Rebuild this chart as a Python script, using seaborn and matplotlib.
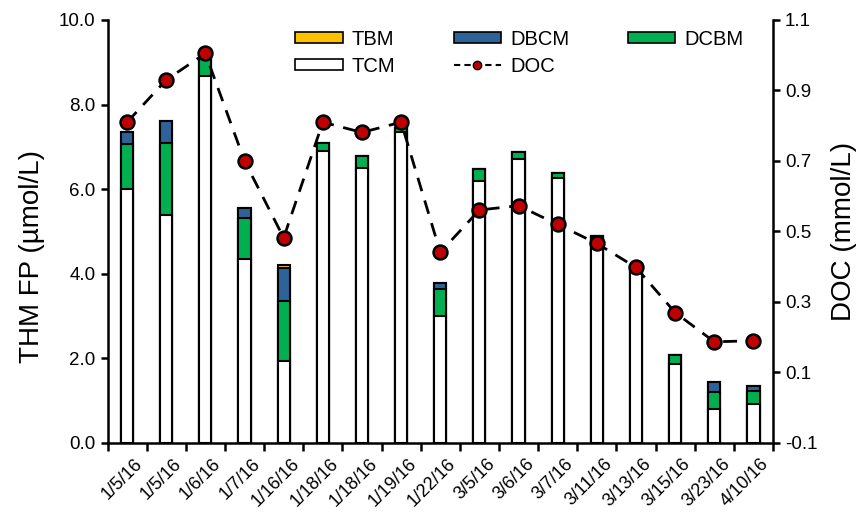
import numpy as np
import pandas as pd
import matplotlib
matplotlib.use("Agg")
import matplotlib.pyplot as plt
import matplotlib.transforms as mtransforms
import seaborn as sns
from matplotlib.patches import Patch
from matplotlib.lines import Line2D

dates = ["1/5/16", "1/5/16", "1/6/16", "1/7/16", "1/16/16", "1/18/16", "1/18/16",
         "1/19/16", "1/22/16", "3/5/16", "3/6/16", "3/7/16", "3/11/16", "3/13/16",
         "3/15/16", "3/23/16", "4/10/16"]
tcm = [6.00, 5.39, 8.68, 4.35, 1.94, 6.90, 6.51, 7.35, 3.00, 6.19, 6.71, 6.26,
       4.85, 4.08, 1.87, 0.80, 0.92]
dcbm = [1.07, 1.71, 0.42, 0.98, 1.42, 0.20, 0.27, 0.10, 0.63, 0.29, 0.18, 0.12,
        0.04, 0.02, 0.20, 0.40, 0.31]
dbcm = [0.27, 0.52, 0.00, 0.23, 0.77, 0.00, 0.00, 0.00, 0.15, 0.00, 0.00, 0.00,
        0.00, 0.00, 0.00, 0.25, 0.12]
tbm = [0.00, 0.00, 0.00, 0.00, 0.08, 0.00, 0.00, 0.00, 0.00, 0.00, 0.00, 0.00,
       0.00, 0.00, 0.00, 0.00, 0.00]
doc = [0.81, 0.93, 1.005, 0.70, 0.482, 0.81, 0.781, 0.81, 0.441, 0.561, 0.573,
       0.520, 0.466, 0.398, 0.270, 0.187, 0.190]

sns.set_theme(style="ticks")
plt.rcParams["font.family"] = ["Liberation Sans", "DejaVu Sans"]
for k in ["text.color", "axes.labelcolor", "xtick.color", "ytick.color", "axes.edgecolor"]:
    plt.rcParams[k] = "black"

c_tbm = "#FFC000"
c_dbcm = "#2E6399"
c_dcbm = "#00B050"
c_tcm = "#FFFFFF"

pos = np.arange(len(dates))
df = pd.DataFrame({"pos": pos, "tcm": tcm, "dcbm": dcbm, "dbcm": dbcm, "tbm": tbm, "doc": doc})
df["c_tcm"] = df["tcm"]
df["c_dcbm"] = df["c_tcm"] + df["dcbm"]
df["c_dbcm"] = df["c_dcbm"] + df["dbcm"]
df["c_tbm"] = df["c_dbcm"] + df["tbm"]

fig = plt.figure(figsize=(8.67, 5.12), dpi=100)
ax = fig.add_axes([0.124, 0.1348, 0.7676, 0.8262])

bw = 0.31
for col, colr in [("c_tbm", c_tbm), ("c_dbcm", c_dbcm), ("c_dcbm", c_dcbm), ("c_tcm", c_tcm)]:
    sns.barplot(data=df, x="pos", y=col, color=colr, saturation=1, width=bw,
                edgecolor="black", linewidth=1.5, ax=ax, order=list(pos))

ax.set_xlim(-0.5, len(dates) - 0.5)
ax.set_ylim(0, 10)
ax.set_yticks(np.arange(0, 10.01, 2))
ax.set_yticklabels([f"{v:.1f}" for v in np.arange(0, 10.01, 2)], fontsize=13.5)
ax.set_xticks(np.arange(-0.5, len(dates), 1))
ax.set_xticklabels([])
ax.set_xticks(pos, minor=True)
ax.set_xticklabels(dates, minor=True, rotation=45, ha="right", rotation_mode="anchor",
                   fontsize=13)
ax.tick_params(axis="x", which="minor", length=0, pad=9)
ax.tick_params(axis="x", which="major", length=6, width=1.8, direction="out")
ax.tick_params(axis="y", length=5, width=1.8, direction="out")
offset = mtransforms.ScaledTranslation(7 / 100, 0, fig.dpi_scale_trans)
for lab in ax.get_xticklabels(minor=True):
    lab.set_transform(lab.get_transform() + offset)
ax.set_xlabel("")
ax.set_ylabel("THM FP (µmol/L)", fontsize=20)
ax.yaxis.set_label_coords(-0.094, 0.44)
for s in ["left", "bottom"]:
    ax.spines[s].set_linewidth(1.8)
ax.spines["top"].set_visible(False)
ax.spines["right"].set_visible(False)

ax2 = ax.twinx()
sns.lineplot(data=df, x="pos", y="doc", ax=ax2, color="black", linestyle=(0, (5, 3.5)),
             linewidth=2, marker="o", markersize=10, markerfacecolor="#C00000",
             markeredgecolor="black", markeredgewidth=1.8, legend=False)
ax2.set_ylim(-0.1, 1.1)
yt2 = [-0.1, 0.1, 0.3, 0.5, 0.7, 0.9, 1.1]
ax2.set_yticks(yt2)
ax2.set_yticklabels([f"{v:.1f}" for v in yt2], fontsize=13.5)
ax2.tick_params(axis="y", length=5, width=1.8, direction="out")
ax2.set_ylabel("DOC (mmol/L)", fontsize=20, labelpad=10)
ax2.set_xlabel("")
ax2.spines["right"].set_linewidth(1.8)
for s in ["top", "left", "bottom"]:
    ax2.spines[s].set_visible(False)

handles = [
    Patch(facecolor=c_tbm, edgecolor="black", linewidth=1.2, label="TBM"),
    Patch(facecolor=c_tcm, edgecolor="black", linewidth=1.2, label="TCM"),
    Patch(facecolor=c_dbcm, edgecolor="black", linewidth=1.2, label="DBCM"),
    Line2D([0], [0], color="black", linestyle=(0, (3, 2)), linewidth=1.5, marker="o",
           markersize=6, markerfacecolor="#C00000", markeredgecolor="black", label="DOC"),
    Patch(facecolor=c_dcbm, edgecolor="black", linewidth=1.2, label="DCBM"),
]
ax2.legend(handles=handles, loc="upper left", bbox_to_anchor=(0.258, 1.015), ncol=3,
           frameon=False, fontsize=14.5, handlelength=2.35, handleheight=0.5,
           handletextpad=0.45, columnspacing=2.9, labelspacing=0.4, borderpad=0.3)

fig.savefig("out.png", dpi=100)
